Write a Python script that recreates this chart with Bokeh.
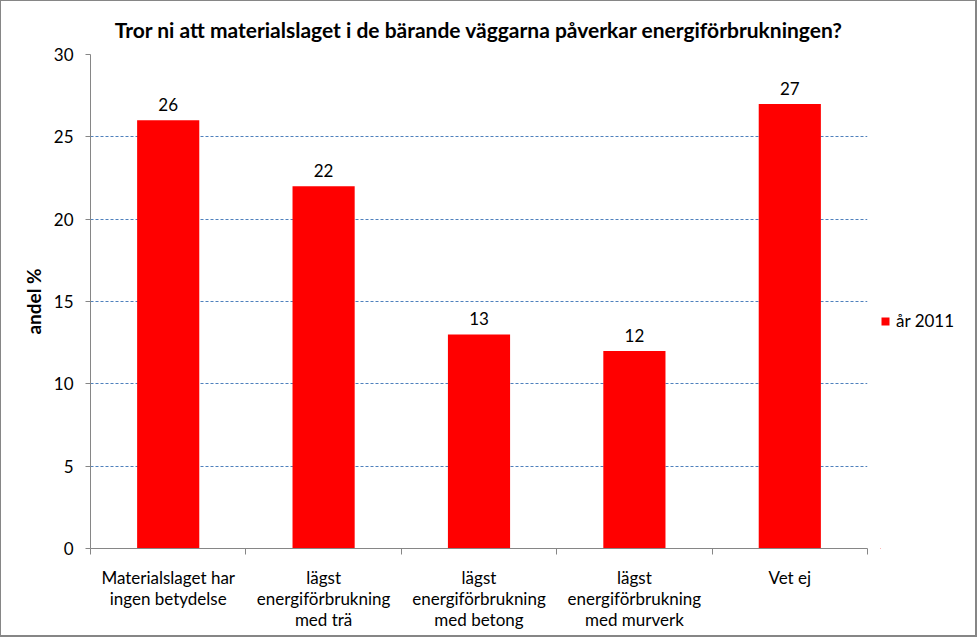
from bokeh.plotting import figure
from bokeh.layouts import row
from bokeh.models import FixedTicker, ColumnDataSource, Legend, LegendItem, Range1d
from bokeh.core.properties import value
from bokeh.embed import file_html
from bokeh.resources import INLINE

categories = ["Materialslaget har\ningen betydelse",
              "lägst\nenergiförbrukning\nmed trä",
              "lägst\nenergiförbrukning\nmed betong",
              "lägst\nenergiförbrukning\nmed murverk",
              "Vet ej"]
values = [26, 22, 13, 12, 27]
series_name = "år 2011"
title = "Tror ni att materialslaget i de bärande väggarna påverkar energiförbrukningen?"
y_ticks = [0, 5, 10, 15, 20, 25, 30]

FONT = "Lato"
n = len(categories)
xs = [i + 0.5 for i in range(n)]

src = ColumnDataSource(dict(x=xs, top=values, lbl=[str(v) for v in values]))

p = figure(width=879, height=634, output_backend="svg", toolbar_location=None,
           x_range=Range1d(0, n), y_range=Range1d(0, 30),
           min_border_left=89, min_border_right=13, min_border_top=53, min_border_bottom=87)
p.outline_line_color = None
p.background_fill_color = "white"
p.border_fill_color = "white"

r = p.vbar(x="x", top="top", width=0.4, bottom=0, source=src, fill_color="#ff0000", line_color=None)
p.text(x="x", y="top", text="lbl", source=src, text_align="center", text_baseline="bottom",
       y_offset=-9, text_font=value(FONT), text_font_size="17px", text_color="black")

# axes
p.xaxis.ticker = FixedTicker(ticks=xs, minor_ticks=list(range(n + 1)))
p.xaxis.major_label_overrides = {x: c for x, c in zip(xs, categories)}
p.xaxis.major_tick_line_color = None
p.xaxis.major_tick_out = 0
p.xaxis.minor_tick_out = 6
p.xaxis.minor_tick_in = 0
p.xaxis.minor_tick_line_color = "#868686"
p.xaxis.axis_line_color = "#868686"
p.xaxis.major_label_text_font = FONT
p.xaxis.major_label_text_font_size = "17px"
p.xaxis.major_label_text_color = "black"
p.xaxis.major_label_text_line_height = 1.0
p.xaxis.major_label_standoff = 12

p.yaxis.ticker = FixedTicker(ticks=y_ticks)
p.yaxis.axis_line_color = "#868686"
p.yaxis.major_tick_line_color = "#868686"
p.yaxis.major_tick_out = 5
p.yaxis.major_tick_in = 0
p.yaxis.minor_tick_line_color = None
p.yaxis.major_label_text_font = FONT
p.yaxis.major_label_text_font_size = "17px"
p.yaxis.major_label_text_color = "black"
p.yaxis.major_label_standoff = 12
p.yaxis.axis_label = "andel %"
p.yaxis.axis_label_text_font = FONT
p.yaxis.axis_label_text_font_style = "bold"
p.yaxis.axis_label_text_font_size = "19px"
p.yaxis.axis_label_text_color = "black"
p.yaxis.axis_label_standoff = 6

p.xgrid.grid_line_color = None
p.ygrid.ticker = FixedTicker(ticks=y_ticks[1:])
p.ygrid.grid_line_color = "#4f81bd"
p.ygrid.grid_line_dash = "3 2"
p.ygrid.grid_line_width = 1

p.title.text = title
p.title.text_font = FONT
p.title.text_font_size = "21px"
p.title.text_font_style = "bold"
p.title.text_color = "black"
p.title.align = "center"
p.title.offset = 11
p.title.standoff = 25

# legend panel
lg = figure(width=95, height=634, output_backend="svg", toolbar_location=None,
            x_range=Range1d(100, 101), y_range=Range1d(100, 101),
            min_border_left=0, min_border_right=0, min_border_top=0, min_border_bottom=0)
lg.axis.visible = False
lg.grid.visible = False
lg.outline_line_color = None
lr = lg.vbar(x="x", top="top", width=0.4, bottom=0, source=src, fill_color="#ff0000", line_color=None)
legend = Legend(items=[LegendItem(label=series_name, renderers=[lr])],
                location=(0, 217), border_line_color=None, background_fill_alpha=0,
                label_text_font=FONT, label_text_font_size="17px", label_text_color="black",
                glyph_width=10, glyph_height=10, label_standoff=6, margin=0, padding=10)
lg.add_layout(legend, "center")

layout = row(p, lg)
layout.styles = {"border-left": "1px solid #868686", "border-top": "1px solid #868686",
                 "border-right": "2px solid #868686", "border-bottom": "2px solid #868686",
                 "background-color": "white"}

open("out.html", "w").write(file_html(layout, INLINE))
